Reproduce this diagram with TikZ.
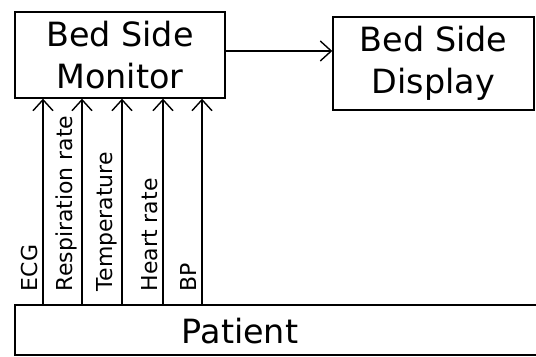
\documentclass[tikz,border=0pt]{standalone}
\usepackage{fontspec}
\setmainfont{DejaVu Sans}
\usetikzlibrary{arrows.meta, positioning, calc}

\begin{document}
\begin{tikzpicture}[
  box/.style={rectangle, draw=black, line width=0.8pt, align=center, inner sep=2pt},
  title/.style={font=\fontsize{19}{24}\selectfont},
  signal/.style={draw=black, line width=0.8pt, -{Straight Barb[length=2.2mm, width=4mm]}},
  sigtext/.style={rotate=90, anchor=south west, inner sep=1pt, font=\fontsize{12.5}{14}\selectfont}
]
  \useasboundingbox (0,0) rectangle (10.72,7.14);

  \node[box, title, minimum width=4.2cm, minimum height=1.72cm] (monitor) at (2.4,6.04) {Bed Side\\Monitor};
  \node[box, title, minimum width=4.02cm, minimum height=1.86cm] (display) at (8.67,5.87) {Bed Side\\Display};
  \node[box, minimum width=10.6cm, minimum height=1.0cm] (patient) at (5.6,0.54) {};
  \node[title] (patientlabel) at (4.8,0.52) {Patient};

  \draw[signal] (monitor.east |- 0,6.12) -- (display.west |- 0,6.12);

  % vital signs going up from the patient
  \foreach \x/\name/\txt in {0.86/ecg/ECG, 1.64/resp/Respiration rate, 2.44/temp/Temperature, 3.26/heart/Heart rate, 4.04/bp/BP} {
    \coordinate (\name from) at (patient.north -| \x,0);
    \coordinate (\name to) at (monitor.south -| \x,0);
    \draw[signal] (\name from) -- (\name to);
    \node[sigtext] (\name label) at ($(\name from)+(-0.06,0.22)$) {\txt};
  }

\end{tikzpicture}
\end{document}
